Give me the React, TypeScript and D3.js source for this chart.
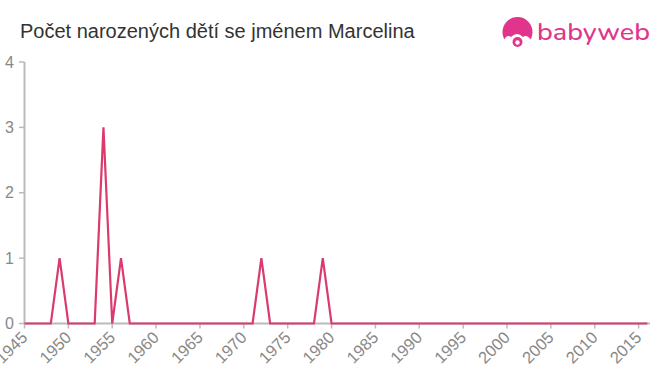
import React from "react";
import * as d3 from "d3";

const years: number[] = d3.range(1945, 2017);
const peakYears = [1949, 1954, 1956, 1972, 1979];
const peakValues = [1, 3, 1, 1, 1];
const counts: number[] = years.map((y) => {
  const i = peakYears.indexOf(y);
  return i >= 0 ? peakValues[i] : 0;
});
const xTicks = d3.range(1945, 2016, 5);
const yTicks = [0, 1, 2, 3, 4];
const title = "Počet narozených dětí se jménem Marcelina";

export default function App() {
  const W = 660, H = 375;
  const x = d3.scaleLinear().domain([1945, 2016.3]).range([24.5, 650]);
  const y = d3.scaleLinear().domain([0, 4]).range([323.5, 62]);
  const line = d3.line<number>().x((d, i) => x(years[i])).y((d) => y(d));
  const axisColor = "#bbbbbb";
  const textColor = "#888888";
  const pink = "#db3a6c";
  const logo = "#e0358a";
  return (
    <svg width={W} height={H} style={{ position: "absolute", left: 0, top: 0 }} fontFamily="Liberation Sans, Arial, sans-serif">
      <rect width={W} height={H} fill="#fff" />
      <text x={20} y={38} fontSize={20} fill="#333">{title}</text>
      {/* logo */}
      <g>
        <circle cx={517.5} cy={32} r={15} fill={logo} />
        <path d="M504 40 Q507 34 511 37 Q517 31 523 37 Q527 34 531 40 L531 48 L504 48 Z" fill="#fff" />
        <circle cx={517.5} cy={42} r={5} fill={logo} />
        <circle cx={517.5} cy={42.5} r={2.2} fill="#fff" />
        <text x={537} y={39.5} fontSize={24} fill={logo} fontFamily="Nunito, Lato, Arial, sans-serif" fontWeight={500} textLength={113} lengthAdjust="spacingAndGlyphs">babyweb</text>
      </g>
      {/* y axis */}
      <line x1={x.range()[0]} x2={x.range()[0]} y1={y(4)} y2={y(0)} stroke={axisColor} strokeWidth={2} />
      {yTicks.map((t) => (
        <g key={t}>
          <line x1={19} x2={24.5} y1={y(t)} y2={y(t)} stroke={axisColor} strokeWidth={1.5} />
          <text x={14} y={y(t) + 5.5} textAnchor="end" fontSize={16} fill={textColor}>{t}</text>
        </g>
      ))}
      {/* x axis */}
      <line x1={x.range()[0]} x2={650} y1={y(0)} y2={y(0)} stroke={axisColor} strokeWidth={2} />
      {xTicks.map((t) => (
        <g key={t}>
          <line x1={x(t)} x2={x(t)} y1={y(0)} y2={y(0) + 5} stroke={axisColor} strokeWidth={1.5} />
          <text transform={`translate(${x(t) + 4},${y(0) + 15}) rotate(-45)`} textAnchor="end" fontSize={16.5} fill={textColor}>{t}</text>
        </g>
      ))}
      <path d={line(counts) || ""} fill="none" stroke={pink} strokeWidth={2.2} strokeLinejoin="miter" />
    </svg>
  );
}
